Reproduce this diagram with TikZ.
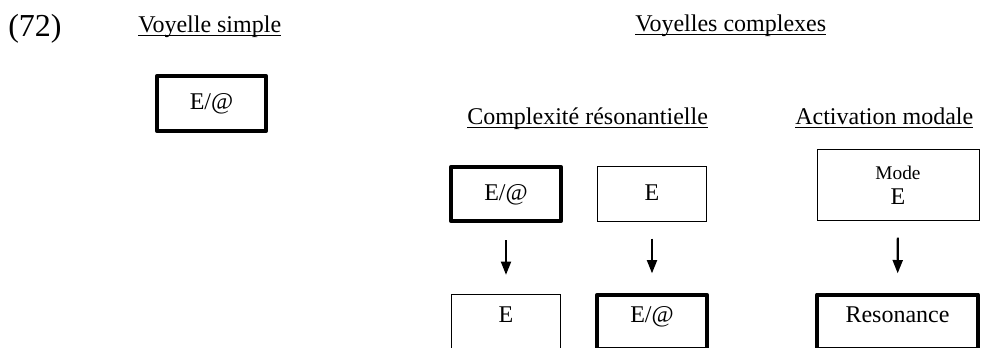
\documentclass[tikz,border=0pt]{standalone}
\usepackage{fontspec}
\setmainfont{Liberation Serif}
\usetikzlibrary{arrows.meta,positioning}

\begin{document}
\begin{tikzpicture}[x=0.75pt, y=-0.75pt,
  hd/.style={font=\fontsize{18}{21}\selectfont, inner sep=0pt, anchor=base west},
  ul/.style={line width=1pt},
  bx/.style={draw, line width=0.75pt, minimum width=82pt, minimum height=41pt,
             inner sep=0pt, font=\fontsize{18}{21}\selectfont, align=center},
  txt/.style={text height=13pt, text depth=4pt},
  bold/.style={line width=3pt, line join=round},
  low/.style={text height=13pt, text depth=12pt},
  arr/.style={-{Triangle[length=10pt,width=7.5pt]}, line width=1.6pt,
              shorten <=12.5pt, shorten >=14.5pt}
]
  \useasboundingbox (0,0) rectangle (981,347);
  % headings
  \node[hd, font=\fontsize{24}{28}\selectfont] (num) at (8,36) {(72)};
  \node[hd] (hs) at (138,32) {Voyelle simple};
  \node[hd] (hc) at (635,31) {Voyelles complexes};
  \node[hd] (hr) at (467,124) {Complexité résonantielle};
  \node[hd] (hm) at (795,124) {Activation modale};
  \foreach \h in {hs,hc,hr,hm}
    \draw[ul] ([yshift=-2.5pt]\h.base west) -- ([yshift=-2.5pt]\h.base east);

  % boxes
  \node[bx, txt, bold] (s)  at (211.5,103.5) {E/@};
  \node[bx, txt, bold] (c1) at (506,194) {E/@};
  \node[bx, txt]       (c2) at (652,194) {E};
  \node[bx, minimum width=121.5pt, minimum height=53pt] (m) at (898,185)
    {{\fontsize{14.5}{19}\selectfont Mode}\\[-2pt]E};
  \node[bx, low]       (d1) at (506,322) {E};
  \node[bx, bold, low] (d2) at (652,322) {E/@};
  \node[bx, bold, low, minimum width=121pt] (r) at (897.5,322) {Resonance};

  % arrows
  \draw[arr] (c1) -- (d1);
  \draw[arr] (c2) -- (d2);
  \draw[arr] (m) -- (r);
\end{tikzpicture}
\end{document}
